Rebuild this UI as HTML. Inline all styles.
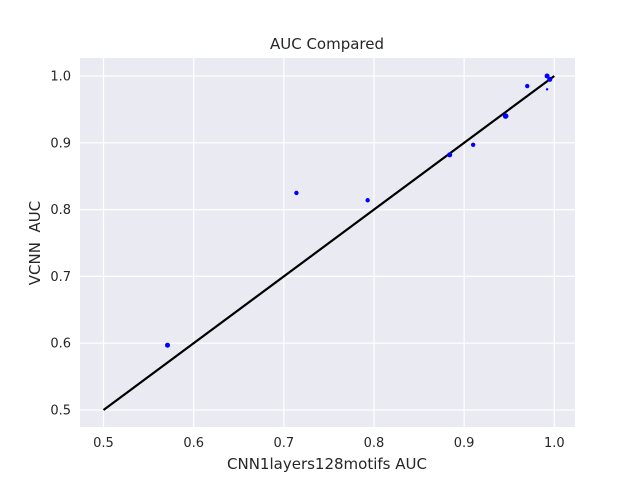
<!DOCTYPE html>
<html><head><meta charset="utf-8"><style>
body{margin:0;background:#fff;}
text{font-family:"DejaVu Sans","Liberation Sans",sans-serif;fill:#262626;white-space:pre;}
</style></head><body>
<svg id="chart" width="640" height="480" viewBox="0 0 640 480" xmlns="http://www.w3.org/2000/svg">
<rect x="80" y="58" width="495" height="369" fill="#eaeaf2"/>
<g id="grid"></g>
<g id="ticks"></g>
<line id="diag" stroke="#000" stroke-width="2.2"/>
<g id="points"></g>
<text x="327" y="49" font-size="15" text-anchor="middle">AUC Compared</text>
<text x="327" y="469" font-size="15" text-anchor="middle">CNN1layers128motifs AUC</text>
<text x="40" y="243" font-size="15" text-anchor="middle" transform="rotate(-90 40 243)" xml:space="preserve">VCNN  AUC</text>
</svg>
<script>
const xTicks=[0.5,0.6,0.7,0.8,0.9,1.0];
const yTicks=[0.5,0.6,0.7,0.8,0.9,1.0];
const tickLabels=["0.5","0.6","0.7","0.8","0.9","1.0"];
const xVals=[0.571,0.714,0.793,0.884,0.910,0.946,0.970,0.992,0.995,0.992];
const yVals=[0.597,0.825,0.814,0.882,0.897,0.940,0.985,1.000,0.995,0.980];
const sizes=[2.5,2.2,2.2,2.5,2.2,2.8,2.2,2.5,2.5,1.2];
const NS="http://www.w3.org/2000/svg";
const xs=v=>103.5+(v-0.5)*901.6;
const ys=v=>410-(v-0.5)*668;
const grid=document.getElementById('grid'),ticks=document.getElementById('ticks'),pts=document.getElementById('points');
xTicks.forEach((t,i)=>{
 const l=document.createElementNS(NS,'line');
 
 
 l.setAttribute('x1',xs(t));l.setAttribute('x2',xs(t));l.setAttribute('y1',58);l.setAttribute('y2',427);
 l.setAttribute('stroke','#fff');l.setAttribute('stroke-width','1.2');grid.appendChild(l);
 const tx=document.createElementNS(NS,'text');
 
 
 tx.setAttribute('x',xs(t));tx.setAttribute('y',447);tx.setAttribute('font-size','13');tx.setAttribute('text-anchor','middle');
 tx.textContent=tickLabels[i];ticks.appendChild(tx);
});
yTicks.forEach((t,i)=>{
 const l=document.createElementNS(NS,'line');
 
 
 l.setAttribute('y1',ys(t));l.setAttribute('y2',ys(t));l.setAttribute('x1',80);l.setAttribute('x2',575);
 l.setAttribute('stroke','#fff');l.setAttribute('stroke-width','1.2');grid.appendChild(l);
 const tx=document.createElementNS(NS,'text');
 
 
 tx.setAttribute('x',71);tx.setAttribute('y',ys(t)+4.5);tx.setAttribute('font-size','13');tx.setAttribute('text-anchor','end');
 tx.textContent=tickLabels[i];ticks.appendChild(tx);
});
const d=document.getElementById('diag');
d.setAttribute('x1',xs(0.5));d.setAttribute('y1',ys(0.5));d.setAttribute('x2',xs(1.0));d.setAttribute('y2',ys(1.0));
xVals.forEach((v,i)=>{
 const c=document.createElementNS(NS,'circle');
 
 
 c.setAttribute('cx',xs(v));c.setAttribute('cy',ys(yVals[i]));c.setAttribute('r',sizes[i]);c.setAttribute('fill','#0000ff');
 pts.appendChild(c);
});
</script>
</body></html>
